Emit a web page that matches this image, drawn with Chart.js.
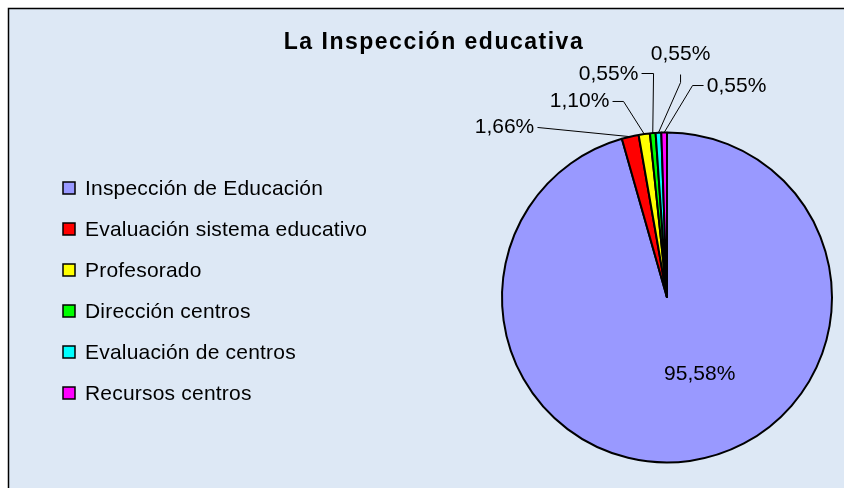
<!DOCTYPE html>
<html>
<head>
<meta charset="utf-8">
<script src="https://cdn.jsdelivr.net/npm/chart.js@4"></script>
<style>
  html, body { margin: 0; padding: 0; background: #ffffff; }
  #wrap { width: 844px; height: 488px; position: relative; }
</style>
</head>
<body>
<div id="wrap"><canvas id="myChart" width="844" height="488"></canvas></div>
<script>
// Data
const chartTitle = "La Inspección educativa";
const categories = [
    "Inspección de Educación",
    "Evaluación sistema educativo",
    "Profesorado",
    "Dirección centros",
    "Evaluación de centros",
    "Recursos centros"
];
const percentages = [95.58, 1.66, 1.10, 0.55, 0.55, 0.55];
const sliceColors = ["#9999ff", "#ff0000", "#ffff00", "#00ff00", "#00ffff", "#ff00ff"];

// label layout for the small slices, offsets from the slice's outer point
// [textDx, textDy, startDx, startDy, elbowDx, elbowDy]
const labelLayout = [
    null,
    [-125.7, -9.2, -92.7, -9.2, -92.7, -9.2],
    [-64.7, -32.6, -31.7, -32.6, -20.7, -32.6],
    [-44.2, -58.6, -11.2, -59.6, 0.8, -59.6],
    [22.1, -78.2, 22.1, -58.2, 22.1, -50.2],
    [72.4, -46, 39.4, -47, 28.4, -47]
];

function fmt(v) {
    return v.toFixed(2).replace(".", ",") + "%";
}

const decorPlugin = {
    id: "decor",
    beforeDraw(chart) {
        const ctx = chart.ctx;
        ctx.save();
        ctx.fillStyle = "#ffffff";
        ctx.fillRect(0, 0, chart.width, chart.height);
        ctx.fillStyle = "#dde8f5";
        ctx.fillRect(9, 9, chart.width - 9, chart.height - 9);
        ctx.strokeStyle = "#000000";
        ctx.lineWidth = 1.5;
        ctx.beginPath();
        ctx.moveTo(8.5, chart.height);
        ctx.lineTo(8.5, 8.5);
        ctx.lineTo(chart.width, 8.5);
        ctx.stroke();

        // title
        ctx.fillStyle = "#000000";
        ctx.font = "bold 23px 'Liberation Sans', Arial, sans-serif";
        ctx.letterSpacing = "1.5px";
        ctx.textAlign = "center";
        ctx.textBaseline = "alphabetic";
        ctx.fillText(chartTitle, 434, 49);

        // legend
        ctx.font = "21px 'Liberation Sans', Arial, sans-serif";
        ctx.letterSpacing = "0.2px";
        ctx.textAlign = "left";
        ctx.textBaseline = "middle";
        ctx.lineWidth = 1.5;
        categories.forEach((name, i) => {
            const y = 188 + i * 41;
            ctx.fillStyle = sliceColors[i];
            ctx.fillRect(63, y - 6, 12, 12);
            ctx.strokeStyle = "#000000";
            ctx.strokeRect(63, y - 6, 12, 12);
            ctx.fillStyle = "#000000";
            ctx.fillText(name, 85, y + 1);
        });
        ctx.letterSpacing = "0px";
        ctx.restore();
    },
    afterDatasetsDraw(chart) {
        const ctx = chart.ctx;
        const meta = chart.getDatasetMeta(0);
        ctx.save();
        ctx.font = "21px 'Liberation Sans', Arial, sans-serif";
        ctx.fillStyle = "#000000";
        ctx.strokeStyle = "#000000";
        ctx.lineWidth = 1;
        ctx.textBaseline = "middle";
        ctx.textAlign = "center";
        meta.data.forEach((arc, i) => {
            const p = arc.getProps(["x", "y", "startAngle", "endAngle", "outerRadius"], true);
            const mid = (p.startAngle + p.endAngle) / 2;
            const text = fmt(percentages[i]);
            const lay = labelLayout[i];
            if (!lay) {
                const r = p.outerRadius * 0.47;
                const tx = p.x + Math.cos(mid) * r + 22;
                const ty = p.y + Math.sin(mid) * r;
                ctx.fillText(text, tx, ty);
                return;
            }
            const ax = p.x + Math.cos(mid) * p.outerRadius;
            const ay = p.y + Math.sin(mid) * p.outerRadius;
            ctx.beginPath();
            ctx.moveTo(ax + lay[2], ay + lay[3]);
            ctx.lineTo(ax + lay[4], ay + lay[5]);
            ctx.lineTo(ax, ay);
            ctx.stroke();
            ctx.fillText(text, ax + lay[0], ay + lay[1]);
        });
        ctx.restore();
    }
};

const ctx = document.getElementById("myChart").getContext("2d");
new Chart(ctx, {
    type: "pie",
    data: {
        labels: categories,
        datasets: [{
            data: percentages,
            backgroundColor: sliceColors,
            borderColor: "#000000",
            borderWidth: 2,
            borderAlign: "center"
        }]
    },
    options: {
        responsive: false,
        animation: false,
        events: [],
        layout: {
            padding: { left: 501, right: 11, top: 131, bottom: 24 }
        },
        plugins: {
            legend: { display: false },
            title: { display: false },
            tooltip: { enabled: false }
        }
    },
    plugins: [decorPlugin]
});
</script>
</body>
</html>
